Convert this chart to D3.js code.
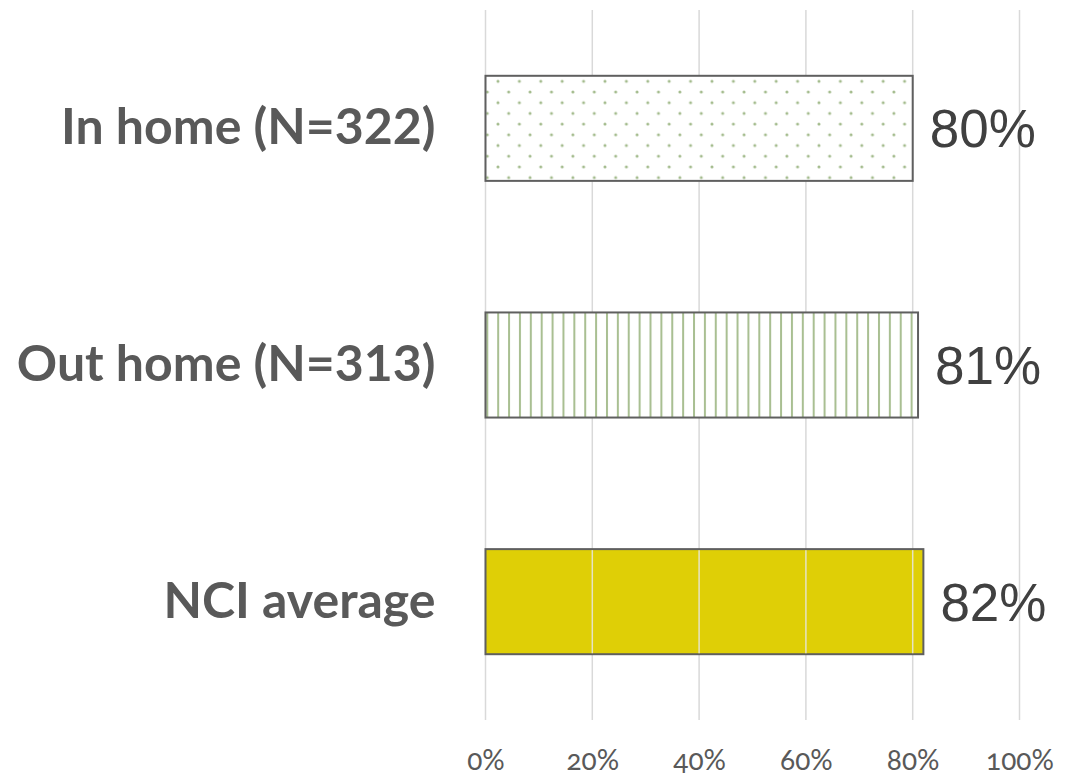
<!DOCTYPE html>
<html><head><meta charset="utf-8">
<script src="https://cdn.jsdelivr.net/npm/d3@7"></script>
<style>
html,body{margin:0;padding:0;background:#fff;}
</style>
</head><body>
<svg id="chart" width="1065" height="776"></svg>
<script>
const categories = ["In home (N=322)", "Out home (N=313)", "NCI average"];
const values = [0.80, 0.81, 0.82];
const valueLabels = ["80%", "81%", "82%"];
const xTicks = [0, 0.2, 0.4, 0.6, 0.8, 1.0];
const fills = ["url(#dots)", "url(#stripes)", "#dfcf06"];

const svg = d3.select("#chart");
const margin = {left: 485.5, right: 45.5, top: 10, bottom: 56};
const W = 1065, H = 776;
const x = d3.scaleLinear().domain([0, 1]).range([margin.left, W - margin.right]);
const y = d3.scaleBand().domain(categories).range([margin.top, H - margin.bottom])
  .paddingInner(0.556).paddingOuter(0.278);

const defs = svg.append("defs");
const dots = defs.append("pattern").attr("id", "dots").attr("patternUnits", "userSpaceOnUse")
  .attr("width", 21.4).attr("height", 21.4).attr("x", x(0) + 1.8).attr("y", 92);
dots.append("rect").attr("width", 21.4).attr("height", 21.4).attr("fill", "#fff");
[[0,0],[21.4,0],[0,21.4],[21.4,21.4],[10.7,10.7]].forEach(p =>
  dots.append("circle").attr("cx", p[0]).attr("cy", p[1]).attr("r", 1.5).attr("fill", "#a3bb8c"));

const stripes = defs.append("pattern").attr("id", "stripes").attr("patternUnits", "userSpaceOnUse")
  .attr("width", 10.88).attr("height", 20).attr("x", x(0) + 0.8).attr("y", 0);
stripes.append("rect").attr("width", 10.88).attr("height", 20).attr("fill", "#fff");
stripes.append("rect").attr("x", 0).attr("width", 2).attr("height", 20).attr("fill", "#a9bf92");

// gridlines
svg.append("g").selectAll("line").data(xTicks).join("line")
  .attr("x1", d => x(d)).attr("x2", d => x(d))
  .attr("y1", margin.top).attr("y2", H - margin.bottom)
  .attr("stroke", "#d9d9d9").attr("stroke-width", 1.5);

// bars
svg.append("g").selectAll("rect").data(categories).join("rect")
  .attr("x", x(0)).attr("y", d => y(d))
  .attr("width", (d, i) => x(values[i]) - x(0))
  .attr("height", y.bandwidth())
  .attr("fill", (d, i) => fills[i])
  .attr("stroke", "#5f5f5f").attr("stroke-width", 2);

// gridlines visible through the solid bar
const solid = categories[2];
svg.append("g").selectAll("line").data(xTicks.filter(t => t > 0 && x(t) < x(values[2]))).join("line")
  .attr("x1", d => x(d)).attr("x2", d => x(d))
  .attr("y1", y(solid) + 1).attr("y2", y(solid) + y.bandwidth() - 1)
  .attr("stroke", "#e6e3c4").attr("stroke-width", 1.5);

// value labels
svg.append("g").selectAll("text").data(categories).join("text")
  .attr("x", (d, i) => x(values[i]) + 17)
  .attr("y", d => y(d) + y.bandwidth() / 2 + 19)
  .attr("font-family", "'Liberation Sans', Arial, sans-serif")
  .attr("font-size", 53).attr("fill", "#404040")
  .text((d, i) => valueLabels[i]);

// y axis
const yAxis = svg.append("g").attr("transform", `translate(${x(0)},0)`)
  .call(d3.axisLeft(y).tickSize(0).tickPadding(50));
yAxis.select(".domain").remove();
yAxis.selectAll("text")
  .attr("font-family", "Lato, 'Open Sans', sans-serif").attr("font-weight", "bold")
  .attr("font-size", 50).attr("fill", "#595959")
  .attr("dy", null).attr("y", 16);

// x axis
const xAxis = svg.append("g").attr("transform", `translate(0,${H - margin.bottom})`)
  .call(d3.axisBottom(x).tickValues(xTicks).tickFormat(d3.format(".0%")).tickSize(0).tickPadding(0));
xAxis.select(".domain").remove();
xAxis.selectAll("text")
  .attr("font-family", "Lato, sans-serif").attr("font-size", 28)
  .attr("fill", "#595959").attr("dy", null).attr("y", 50)
  .style("font-variant-numeric", "oldstyle-nums");
</script>
</body></html>
